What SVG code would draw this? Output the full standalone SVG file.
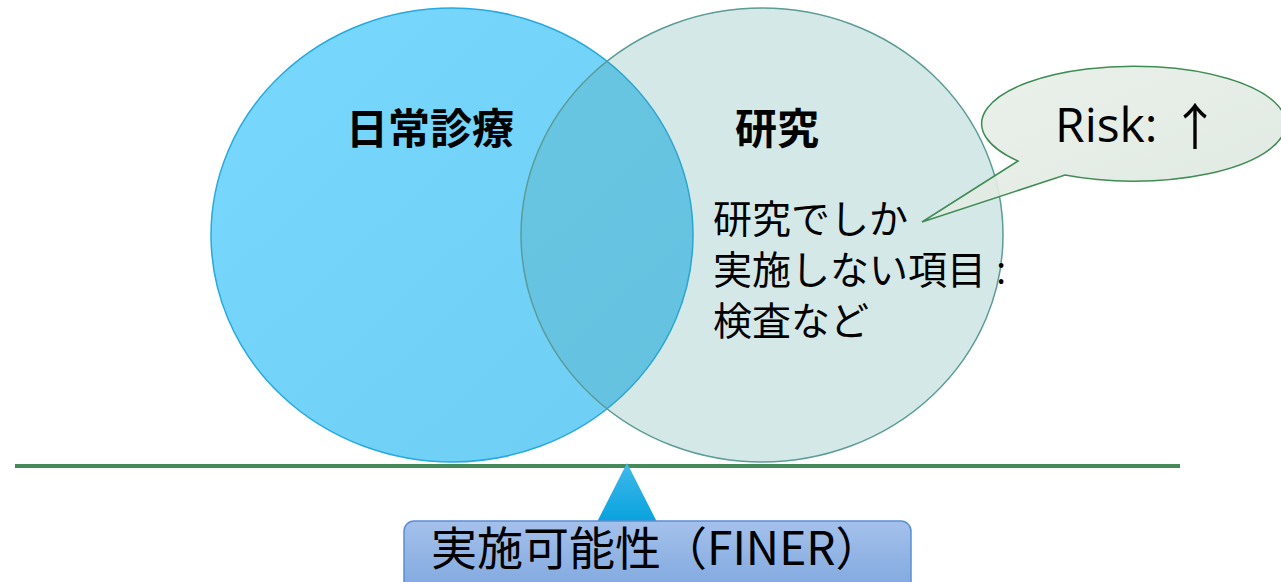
<svg xmlns="http://www.w3.org/2000/svg" width="1281" height="582" viewBox="0 0 1281 582">
  <defs>
    <linearGradient id="gLeft" x1="0" y1="0" x2="1" y2="1">
      <stop offset="0" stop-color="#78d8fd"/>
      <stop offset="1" stop-color="#6ecdf3"/>
    </linearGradient>
    <linearGradient id="gTri" x1="0" y1="0" x2="0" y2="1">
      <stop offset="0" stop-color="#40b9ea"/>
      <stop offset="1" stop-color="#08a2de"/>
    </linearGradient>
    <linearGradient id="gBox" x1="0" y1="0" x2="0" y2="1">
      <stop offset="0" stop-color="#a4c1eb"/>
      <stop offset="1" stop-color="#7ba4dd"/>
    </linearGradient>
    <linearGradient id="gCallout" x1="0" y1="0" x2="1" y2="1">
      <stop offset="0" stop-color="#e9f0e9"/>
      <stop offset="1" stop-color="#dce7de"/>
    </linearGradient>
    <style>
      .jp { font-family: "Noto Sans CJK JP", "Noto Sans", sans-serif; fill: #000; }
      .head { font-size: 42px; font-weight: bold; }
      .body { font-size: 39px; }
      .lat { font-family: "Open Sans", "Noto Sans", sans-serif; fill: #000; }
    </style>
  </defs>

  <g id="node-daily">
    <ellipse cx="452" cy="235" rx="241" ry="227" fill="url(#gLeft)" stroke="#27a9e1" stroke-width="1.5"/>
    <text class="jp head" x="430" y="144" text-anchor="middle">日常診療</text>
  </g>

  <g id="node-research">
    <ellipse cx="762" cy="235" rx="241" ry="227" fill="#409696" fill-opacity="0.22" stroke="#5a9c96" stroke-width="1.5"/>
    <text class="jp head" x="777" y="144" text-anchor="middle">研究</text>
    <text class="jp body" x="713" y="233">研究でしか</text>
    <text class="jp body" x="713" y="284">実施しない項目<tspan dx="10" font-family="Open Sans, sans-serif">:</tspan></text>
    <text class="jp body" x="713" y="335">検査など</text>
  </g>

  <g id="node-risk">
    <path d="M1018,161 L922,222 L1065,175 A152,57.5 0 1 0 1018,161 Z" fill="url(#gCallout)" fill-opacity="0.9" stroke="#3f8c55" stroke-width="1.5"/>
    <text class="lat" x="1055" y="142" font-size="48">Risk: <tspan font-family="Noto Sans CJK JP, sans-serif" dy="3" font-size="50">↑</tspan></text>
  </g>

  <g id="connectors">
    <line x1="15" y1="466" x2="1180" y2="466" stroke="#458a58" stroke-width="4"/>
  </g>

  <g id="node-fulcrum">
    <polygon points="627,463 657,522 597,522" fill="url(#gTri)"/>
  </g>

  <g id="node-feasibility">
    <rect x="404" y="521" width="507" height="80" rx="10" ry="10" fill="url(#gBox)" stroke="#5b8fd4" stroke-width="1.5"/>
    <text class="jp" x="431" y="565" font-size="46">実施可能性（FINER）</text>
  </g>
</svg>
